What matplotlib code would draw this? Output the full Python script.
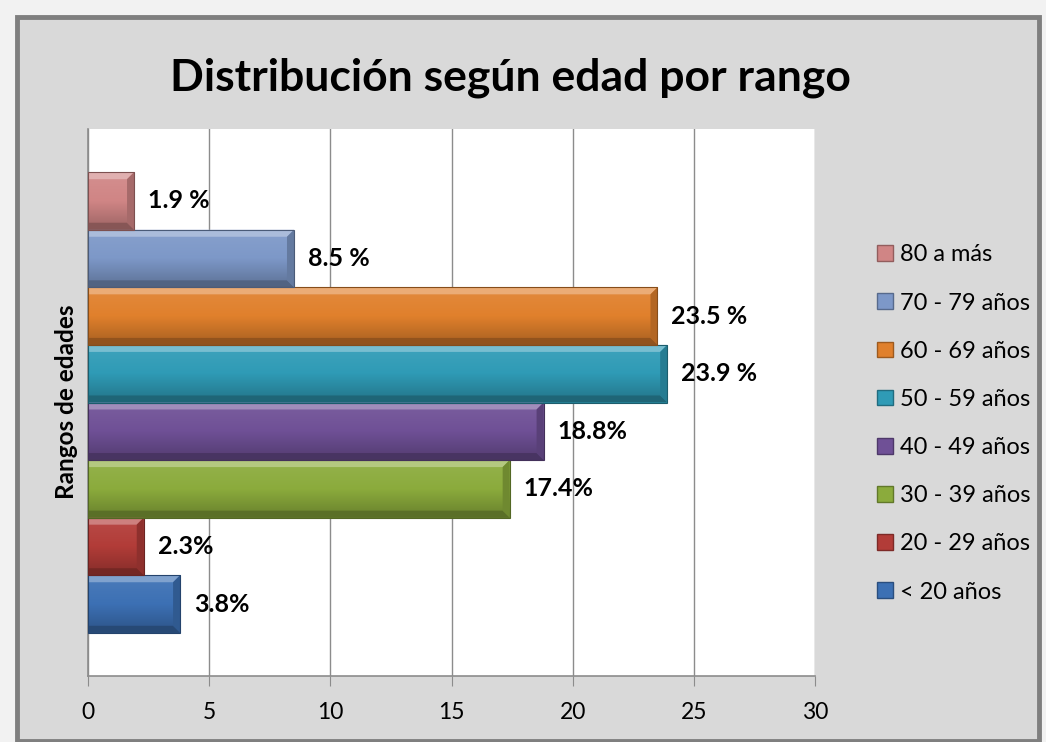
import matplotlib
matplotlib.use("Agg")
import matplotlib.pyplot as plt
from matplotlib.patches import Rectangle, Polygon, Patch
import matplotlib.colors as mcolors
import numpy as np

plt.rcParams['font.family'] = ['Lato', 'DejaVu Sans']

# ---- data ----
categories = ["< 20 años", "20 - 29 años", "30 - 39 años", "40 - 49 años",
              "50 - 59 años", "60 - 69 años", "70 - 79 años", "80 a más"]
values = [3.8, 2.3, 17.4, 18.8, 23.9, 23.5, 8.5, 1.9]
value_labels = ["3.8%", "2.3%", "17.4%", "18.8%", "23.9 %", "23.5 %", "8.5 %", "1.9 %"]
colors = ["#3c70b4", "#b23c38", "#8bab3c", "#6f5096", "#2f9bb6", "#e0802c", "#7d98c8", "#d08585"]
x_ticks = [0, 5, 10, 15, 20, 25, 30]
title = "Distribución según edad por rango"
ylabel = "Rangos de edades"

W, H = 1046, 742
fig = plt.figure(figsize=(W / 100, H / 100), dpi=100)
fig.patch.set_facecolor("#f2f2f2")

# outer chart frame (shadow + border)
for i, a in enumerate([0.10, 0.18, 0.28]):
    off = 6 - 2 * i
    fig.patches.append(Rectangle(((17 + off) / W, 0), (1024 - off) / W, (H - 17 - off) / H,
                                 transform=fig.transFigure, facecolor="#000000", alpha=a,
                                 edgecolor="none", zorder=0))
fig.patches.append(Rectangle((17 / W, 1 / H), 1022 / W, (H - 18) / H,
                             transform=fig.transFigure, facecolor="#d9d9d9",
                             edgecolor="#7f7f7f", linewidth=3.5, zorder=1))

ax = fig.add_axes([88 / W, (H - 676) / H, (815 - 88) / W, (676 - 129) / H])
ax.set_facecolor("white")
ax.set_zorder(2)

pos = np.arange(len(values))
bars = ax.barh(pos, values, height=1.0, color=colors, edgecolor="none", zorder=3)
ax.set_xlim(0, 30)
ax.set_ylim(-1.25, 8.25)

# bevel effect derived from each bar patch
px_x = 30 / (815 - 88)
px_y = 9.5 / (676 - 129)
bev = 7
def shade(c, f):
    r, g, b = mcolors.to_rgb(c)
    if f >= 0:
        return (r + (1 - r) * f, g + (1 - g) * f, b + (1 - b) * f)
    return (r * (1 + f), g * (1 + f), b * (1 + f))

for bar, c in zip(bars, colors):
    x0, y0 = bar.get_x(), bar.get_y()
    x1, y1 = x0 + bar.get_width(), y0 + bar.get_height()
    bx, by = bev * px_x, bev * px_y
    grad = np.linspace(0, 1, 64).reshape(-1, 1)
    cmap = mcolors.LinearSegmentedColormap.from_list("g", [shade(c, -0.25), c, shade(c, 0.08)])
    im = ax.imshow(grad, extent=(x0, x1, y0, y1), origin="lower", cmap=cmap,
                   aspect="auto", zorder=3.1)
    im.set_clip_path(bar)
    top = Polygon([(x0, y1), (x1, y1), (x1 - bx, y1 - by), (x0, y1 - by)],
                  closed=True, facecolor=shade(c, 0.35), edgecolor="none", zorder=3.2)
    bot = Polygon([(x0, y0), (x1, y0), (x1 - bx, y0 + by), (x0, y0 + by)],
                  closed=True, facecolor=shade(c, -0.35), edgecolor="none", zorder=3.2)
    right = Polygon([(x1, y0), (x1, y1), (x1 - bx, y1 - by), (x1 - bx, y0 + by)],
                    closed=True, facecolor=shade(c, -0.2), edgecolor="none", zorder=3.2)
    outline = Rectangle((x0, y0), x1 - x0, y1 - y0, facecolor="none",
                        edgecolor=shade(c, -0.4), linewidth=0.8, zorder=3.3)
    for p in (top, bot, right, outline):
        ax.add_patch(p)

for v, p, lab in zip(values, pos, value_labels):
    ax.annotate(lab, xy=(v, p), xytext=(10, 0), textcoords="offset points",
                ha="left", va="center", fontsize=18, fontweight="bold", color="black", zorder=5)

ax.set_xticks(x_ticks)
ax.set_xticklabels([str(t) for t in x_ticks], fontsize=16.5)
ax.set_yticks([])
ax.grid(axis="x", color="#8c8c8c", linewidth=1.0, zorder=1)
ax.set_axisbelow(True)
for s in ["top", "right"]:
    ax.spines[s].set_visible(False)
for s in ["left", "bottom"]:
    ax.spines[s].set_color("#8c8c8c")
    ax.spines[s].set_linewidth(1.2)
ax.tick_params(axis="x", direction="out", length=7, color="#8c8c8c", pad=12)

fig.text(510 / W, 1 - 78 / H, title, ha="center", va="center", fontsize=32,
         fontweight="bold", zorder=5)
fig.text(67 / W, 1 - 402 / H, ylabel, rotation=90, ha="center", va="center",
         fontsize=17.5, fontweight="bold", zorder=5)

handles = [Patch(facecolor=c, edgecolor=shade(c, -0.3)) for c in colors][::-1]
leg = fig.legend(handles, categories[::-1], loc="upper left",
                 bbox_to_anchor=(868 / W, 1 - 235 / H), frameon=False, fontsize=17,
                 handlelength=0.65, handleheight=0.65, handletextpad=0.3,
                 labelspacing=1.15, borderaxespad=0)
leg.set_zorder(5)

fig.savefig("out.png", dpi=100, facecolor=fig.get_facecolor())
